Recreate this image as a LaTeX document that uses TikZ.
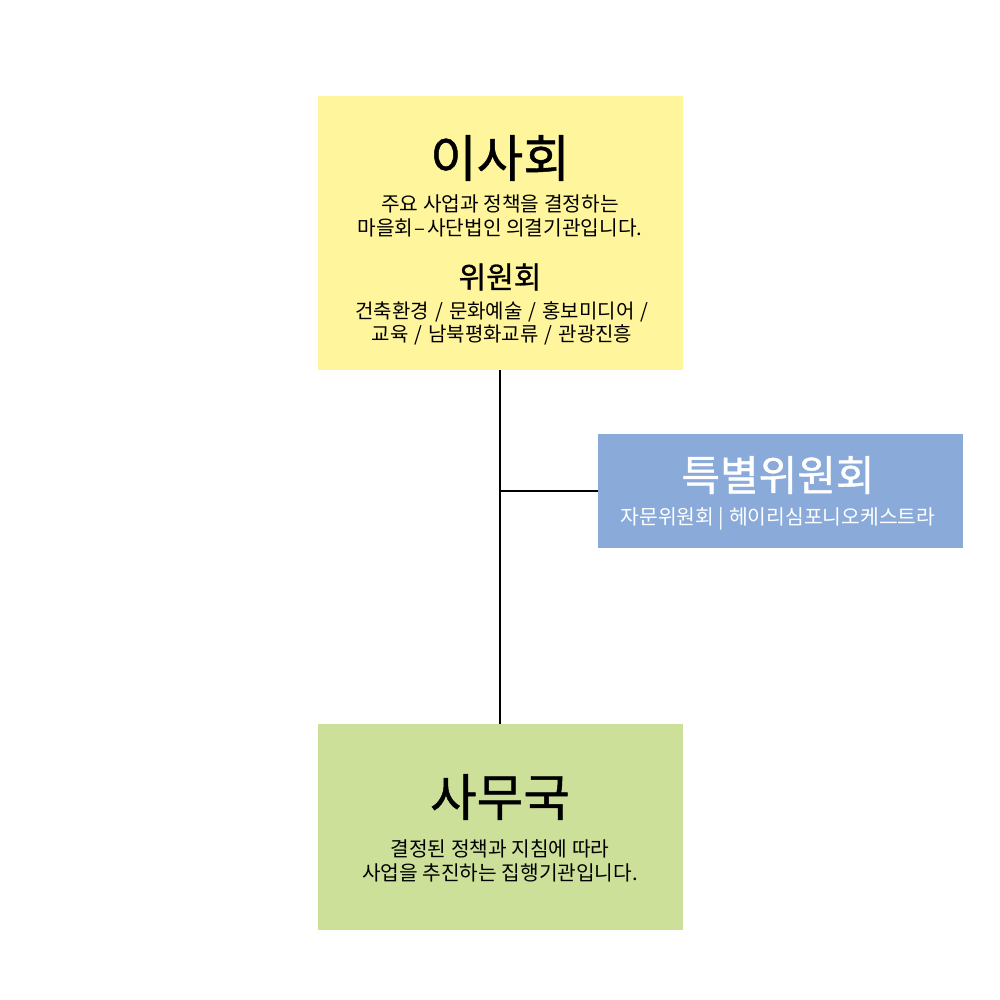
\documentclass[tikz,border=0pt]{standalone}
\usepackage{fontspec}
\setmainfont{Noto Sans CJK KR}
\newfontfamily\titlefont[FakeBold=0.9]{Noto Sans CJK KR}
\newfontfamily\listfont[WordSpace=1.35]{Noto Sans CJK KR}
\definecolor{boardyellow}{RGB}{255,245,157}
\definecolor{specialblue}{RGB}{138,170,217}
\definecolor{officegreen}{RGB}{205,224,154}
\tikzset{
  box/.style={inner sep=0pt, outer sep=0pt, draw=none, minimum width=273.75pt},
  bigtitle/.style={inner sep=0pt, font=\titlefont\fontsize{38}{42}\selectfont},
  midtitle/.style={inner sep=0pt, font=\titlefont\fontsize{22.5}{26}\selectfont},
  desc/.style={inner sep=0pt, align=center, font=\fontsize{15.2}{18}\selectfont},
  list/.style={inner sep=0pt, align=center, font=\listfont\fontsize{15}{17.25}\selectfont},
  conn/.style={line width=1.5pt, black}
}
\begin{document}
\begin{tikzpicture}[x=0.75pt,y=-0.75pt]
\useasboundingbox (0,0) rectangle (1000,1000);
% boxes
\node[box, fill=boardyellow, minimum height=205.5pt] (board) at (500.5,233) {};
\node[box, fill=specialblue, minimum height=85.5pt] (special) at (780.5,491) {};
\node[box, fill=officegreen, minimum height=154.5pt] (office) at (500.5,827) {};
% connectors
\coordinate (junction) at (500,491);
\draw[conn] (board.south -| junction) -- (office.north -| junction);
\draw[conn] (junction) -- (special.west);
% board texts
\node[bigtitle] (boardtitle) at (500,158) {이사회};
\node[desc] (boarddesc) at (500,216) {주요 사업과 정책을 결정하는\\마을회\kern1pt–\kern1pt사단법인 의결기관입니다.};
\node[midtitle] (committee) at (500,277) {위원회};
\node[list] (committeelist) at (502,323) {건축환경 / 문화예술 / 홍보미디어 /\\교육 / 남북평화교류 / 관광진흥};
% special texts
\node[midtitle, white, font=\titlefont\fontsize{31.5}{34}\selectfont] (specialtitle) at (778,475) {특별위원회};
\node[list, white, font=\fontsize{15.3}{18}\selectfont] (specialdesc) at (778,519) {자문위원회 | 헤이리심포니오케스트라};
% office texts
\node[bigtitle] (officetitle) at (500,797) {사무국};
\node[desc] (officedesc) at (500,861) {결정된 정책과 지침에 따라\\사업을 추진하는 집행기관입니다.};
\end{tikzpicture}
\end{document}
